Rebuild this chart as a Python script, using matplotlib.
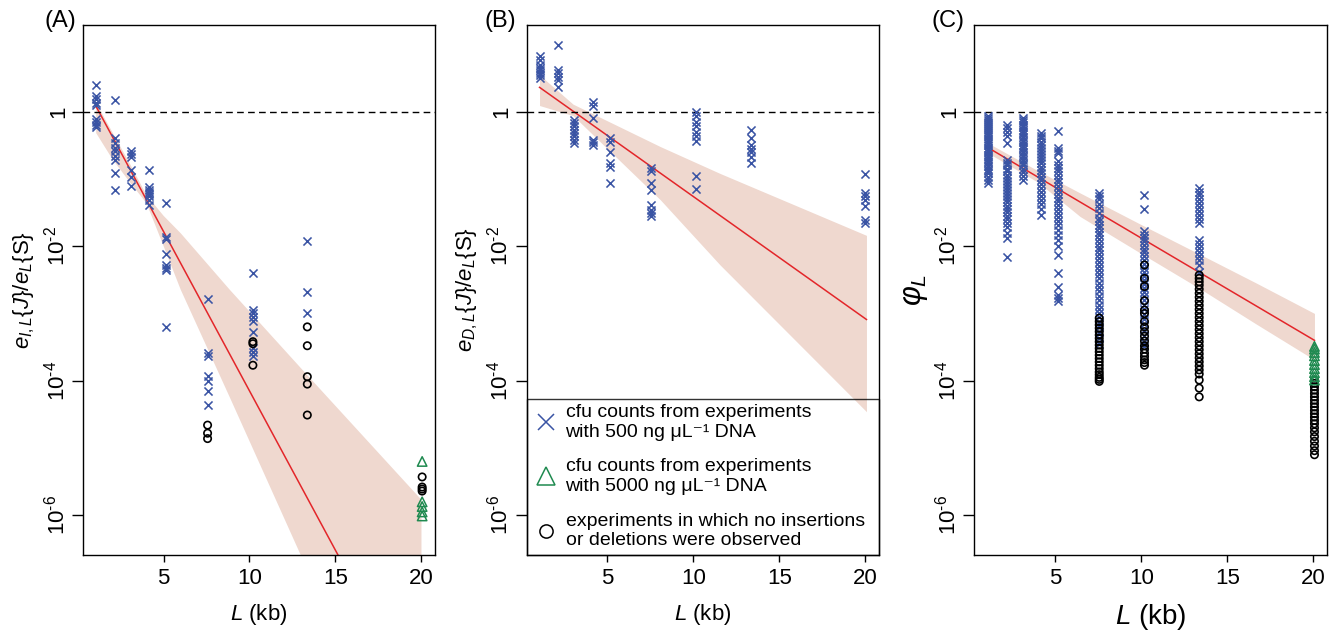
import numpy as np
import matplotlib
matplotlib.use('Agg')
import matplotlib.pyplot as plt
from matplotlib.lines import Line2D

plt.rcParams['font.family'] = ['Liberation Sans', 'DejaVu Sans']
plt.rcParams['mathtext.fontset'] = 'custom'
plt.rcParams['mathtext.rm'] = 'Liberation Sans'
plt.rcParams['mathtext.it'] = 'Liberation Sans:italic'
plt.rcParams['mathtext.bf'] = 'Liberation Sans:bold'

BLUE = '#3a54a4'
GREEN = '#1f8a50'
RED = '#e3262a'
BAND = '#efd8cf'

# every y value below is log10 of the plotted quantity

# ---- panel A ----
L_A = [1.07, 2.17, 3.12, 4.17, 5.16, 7.56, 10.2, 13.37, 20.06]
a_cross = [
    [0.40, 0.23, 0.18, 0.13, 0.10, -0.11, -0.15, -0.20, -0.23],
    [0.17, -0.40, -0.47, -0.54, -0.59, -0.66, -0.72, -0.91, -1.17],
    [-0.58, -0.63, -0.67, -0.87, -0.97, -1.10],
    [-0.87, -1.12, -1.16, -1.19, -1.22, -1.26, -1.31, -1.39],
    [-1.36, -1.86, -1.90, -2.12, -2.28, -2.33, -2.35, -3.20],
    [-2.79, -3.59, -3.63, -3.93, -4.01, -4.15, -4.36],
    [-2.40, -2.95, -3.00, -3.06, -3.11, -3.27, -3.52, -3.58, -3.63],
    [-1.93, -2.68, -3.00],
    [],
]
a_circle_L = [7.56, 10.2, 13.37, 20.06]
a_circle = [
    [-4.66, -4.78, -4.86],
    [-3.42, -3.45, -3.77],
    [-3.20, -3.48, -3.94, -4.05, -4.51],
    [-5.43, -5.58, -5.61, -5.64],
]
a_tri_L = 20.06
a_tri = [-5.20, -5.80, -5.87, -5.95, -6.01]
a_fit_L = [1.07, 20.02]
a_fit = [0.074, -8.89]
a_band_L = [1.07, 2.0, 3.0, 4.0, 5.0, 6.0, 8.86, 12.95, 20.02]
a_band_hi = [0.13, -0.30, -0.76, -1.24, -1.55, -1.81, -2.65, -3.80, -5.77]
a_band_lo = [-0.32, -0.70, -1.04, -1.36, -2.00, -2.65, -4.25, -6.57, -10.5]

# ---- panel B ----
L_B = [1.05, 2.15, 3.08, 4.13, 5.12, 7.52, 10.15, 13.35, 20.0]
b_cross = [
    [0.82, 0.77, 0.69, 0.645, 0.62, 0.57, 0.545, 0.50],
    [0.99, 0.62, 0.57, 0.52, 0.47, 0.37],
    [-0.12, -0.17, -0.22, -0.27, -0.32, -0.37, -0.42, -0.47],
    [0.14, 0.09, -0.09, -0.42, -0.455, -0.495],
    [-0.40, -0.445, -0.595, -0.77, -0.82, -1.06],
    [-0.84, -0.89, -1.06, -1.16, -1.39, -1.46, -1.51, -1.545],
    [-0.01, -0.07, -0.15, -0.22, -0.30, -0.37, -0.435, -0.955, -1.15],
    [-0.27, -0.40, -0.495, -0.555, -0.595, -0.68, -0.77],
    [-0.93, -1.21, -1.26, -1.31, -1.41, -1.61, -1.66],
]
b_fit_L = [1.05, 20.06]
b_fit = [0.36, -3.09]
b_band_L = [1.05, 3.0, 8.07, 11.55, 20.06]
b_band_hi = [0.545, 0.11, -0.52, -0.92, -1.84]
b_band_lo = [0.09, -0.06, -1.31, -2.28, -4.46]

# ---- panel C ----
L_C = [1.09, 2.19, 3.12, 4.17, 5.16, 7.56, 10.19, 13.37]
c_cross = [
    [-0.07, -0.09, -0.12, -0.15, -0.18, -0.21, -0.24, -0.27, -0.31, -0.34,
     -0.37, -0.41, -0.44, -0.47, -0.50, -0.54, -0.57, -0.60, -0.64, -0.67,
     -0.70, -0.74, -0.77, -0.81, -0.85, -0.88, -0.92, -0.97, -1.01, -1.06],
    [-0.20, -0.25, -0.30, -0.37, -0.46, -0.72, -0.76, -0.80, -0.85, -0.89,
     -0.94, -0.98, -1.03, -1.07, -1.12, -1.16, -1.21, -1.26, -1.30, -1.35,
     -1.40, -1.45, -1.50, -1.55, -1.60, -1.66, -1.72, -1.80, -1.88, -2.16],
    [-0.10, -0.13, -0.16, -0.20, -0.23, -0.27, -0.31, -0.34, -0.38, -0.42,
     -0.45, -0.49, -0.53, -0.56, -0.60, -0.64, -0.68, -0.72, -0.76, -0.80,
     -0.85, -0.90, -0.96, -1.02],
    [-0.32, -0.36, -0.40, -0.45, -0.49, -0.54, -0.58, -0.63, -0.68, -0.72,
     -0.77, -0.82, -0.87, -0.92, -0.97, -1.02, -1.08, -1.13, -1.19, -1.25,
     -1.31, -1.38, -1.45, -1.54],
    [-0.29, -0.54, -0.58, -0.62, -0.74, -0.79, -0.84, -0.89, -0.94, -1.00,
     -1.05, -1.11, -1.16, -1.22, -1.28, -1.33, -1.39, -1.45, -1.51, -1.57,
     -1.63, -1.69, -1.76, -1.83, -1.91, -2.00, -2.13, -2.40, -2.60, -2.72,
     -2.77, -2.82],
    [-1.21, -1.25, -1.30, -1.37, -1.44, -1.51, -1.58, -1.63, -1.68, -1.73,
     -1.79, -1.84, -1.90, -1.95, -2.01, -2.06, -2.12, -2.18, -2.24, -2.30,
     -2.36, -2.42, -2.48, -2.55, -2.61, -2.67, -2.74, -2.80, -2.87, -2.93,
     -3.00, -3.06, -3.13, -3.20, -3.28, -3.36, -3.45],
    [-1.24, -1.45, -1.78, -1.83, -1.88, -1.93, -1.98, -2.04, -2.09, -2.15,
     -2.20, -2.26, -2.32, -2.38, -2.44, -2.50, -2.56, -2.62, -2.68, -2.74,
     -2.80, -2.87, -2.94, -3.01, -3.08, -3.16, -3.24, -3.33, -3.42, -3.49],
    [-1.14, -1.19, -1.24, -1.30, -1.36, -1.42, -1.48, -1.54, -1.60, -1.66,
     -1.91, -1.97, -2.03, -2.09, -2.15, -2.21, -2.28, -2.38],
]
c_circle_L = [7.56, 10.19, 13.37, 20.07]
c_circle = [
    [-3.07, -3.12, -3.17, -3.22, -3.27, -3.32, -3.37, -3.42, -3.47, -3.52,
     -3.57, -3.62, -3.67, -3.72, -3.77, -3.82, -3.87, -3.91, -3.95, -3.98,
     -4.01],
    [-2.28, -2.48, -2.60, -2.81, -2.95, -3.00, -3.12, -3.20, -3.27, -3.34,
     -3.41, -3.48, -3.53, -3.59, -3.64, -3.69, -3.73, -3.77],
    [-2.43, -2.48, -2.53, -2.58, -2.64, -2.70, -2.76, -2.82, -2.88, -2.94,
     -3.00, -3.06, -3.12, -3.18, -3.24, -3.30, -3.36, -3.42, -3.48, -3.54,
     -3.60, -3.66, -3.72, -3.78, -3.84, -3.90, -3.99, -4.11, -4.24],
    [-3.99, -4.04, -4.09, -4.14, -4.19, -4.24, -4.29, -4.34, -4.39, -4.44,
     -4.49, -4.54, -4.59, -4.64, -4.70, -4.76, -4.83, -4.90, -4.97, -5.04,
     -5.10],
]
c_tri_L = 20.07
c_tri = [-3.49, -3.53, -3.58, -3.63, -3.70, -3.76, -3.82, -3.88, -3.94, -3.99]
c_fit_L = [1.32, 20.07]
c_fit = [-0.57, -3.40]
c_band_L = [1.32, 4.0, 6.45, 10.0, 13.4, 16.7, 20.07]
c_band_hi = [-0.50, -0.88, -1.21, -1.68, -2.12, -2.55, -3.00]
c_band_lo = [-0.65, -1.05, -1.56, -2.11, -2.63, -3.16, -3.69]

Y_TICKS = [0, -2, -4, -6]
Y_TICK_LABELS = ['1', r'$10^{\text{-}2}$', r'$10^{\text{-}4}$',
                 r'$10^{\text{-}6}$']
X_TICKS = [5, 10, 15, 20]

CROSS = dict(marker='x', color=BLUE, s=34, linewidths=1.15, zorder=3)
CIRCLE = dict(marker='o', facecolors='none', edgecolors='black', s=28,
              linewidths=1.2, zorder=4)
TRI = dict(marker='^', facecolors='none', edgecolors=GREEN, s=46,
           linewidths=1.1, zorder=5)


def scatter_groups(ax, positions, groups, style):
    """
    Draw one column of markers for each position.
    """
    xs = np.repeat(positions, [len(g) for g in groups])
    ys = 10.0 ** np.concatenate([np.asarray(g, float) for g in groups])
    ax.scatter(xs, ys, **style)


def setup_axes(ax, ylabel, xsize=16, ysize=16):
    """
    Log y axis, R-like box and ticks.
    """
    ax.set_yscale('log')
    ax.set_xlim(0.3, 20.8)
    ax.set_ylim(10 ** -6.59, 10 ** 1.29)
    ax.set_xticks(X_TICKS)
    ax.set_xticklabels([str(t) for t in X_TICKS], fontsize=16)
    ax.set_yticks([10.0 ** t for t in Y_TICKS])
    ax.set_yticklabels(Y_TICK_LABELS, fontsize=16, rotation=90, va='center')
    ax.minorticks_off()
    ax.tick_params(axis='x', direction='out', length=4.7, width=1, pad=5)
    ax.tick_params(axis='y', direction='out', length=8, width=1, pad=2)
    for sp in ax.spines.values():
        sp.set_linewidth(1.0)
    ax.axhline(1, color='black', lw=1, ls=(0, (4.8, 3.1)), zorder=2)
    ax.set_xlabel(r'$L$ (kb)', fontsize=xsize, labelpad=9)
    ax.set_ylabel(ylabel, fontsize=ysize)
    ax.yaxis.set_label_coords(-0.168, 0.5)
    ax.yaxis.label.set_verticalalignment('center')


def draw_fit(ax, fit_L, fit_y, band_L, band_hi, band_lo):
    """
    Confidence band and fitted line.
    """
    ax.fill_between(band_L, 10.0 ** np.asarray(band_lo),
                    10.0 ** np.asarray(band_hi), color=BAND, lw=0, zorder=1)
    ax.plot(fit_L, 10.0 ** np.asarray(fit_y), color=RED, lw=1.1, zorder=2)


def main():
    """
    Main function
    """
    fig = plt.figure(figsize=(13.38, 6.35), dpi=100)
    axA = fig.add_axes([0.062, 0.126, 0.263, 0.835])
    axB = fig.add_axes([0.3936, 0.126, 0.2635, 0.835])
    axC = fig.add_axes([0.7282, 0.126, 0.2636, 0.835])

    # (A)
    draw_fit(axA, a_fit_L, a_fit, a_band_L, a_band_hi, a_band_lo)
    scatter_groups(axA, L_A, a_cross, CROSS)
    scatter_groups(axA, a_circle_L, a_circle, CIRCLE)
    scatter_groups(axA, [a_tri_L], [a_tri], TRI)
    setup_axes(axA, r'$e_{I,L}\{J\}/e_{L}\{\mathrm{S}\}$')

    # (B)
    draw_fit(axB, b_fit_L, b_fit, b_band_L, b_band_hi, b_band_lo)
    scatter_groups(axB, L_B, b_cross, CROSS)
    setup_axes(axB, r'$e_{D,L}\{J\}/e_{L}\{\mathrm{S}\}$')

    handles = [
        Line2D([], [], ls='none', marker='x', color=BLUE, markersize=11,
               mew=1.1),
        Line2D([], [], ls='none', marker='^', color=GREEN, mfc='none',
               markersize=13, mew=1.1),
        Line2D([], [], ls='none', marker='o', color='black', mfc='none',
               markersize=9.5, mew=1.1),
    ]
    labels = [
        'cfu counts from experiments\nwith 500 ng \u03bcL\u207b\u00b9 DNA',
        'cfu counts from experiments\nwith 5000 ng \u03bcL\u207b\u00b9 DNA',
        'experiments in which no insertions\nor deletions were observed',
    ]
    leg = axB.legend(handles, labels, loc='lower left',
                     bbox_to_anchor=(0, 0, 1, 1), mode='expand',
                     borderaxespad=0, fontsize=14, fancybox=False,
                     borderpad=0.3, labelspacing=0.9, handlelength=1.4,
                     handletextpad=0.3)
    frame = leg.get_frame()
    frame.set_facecolor('none')
    frame.set_edgecolor('black')
    frame.set_linewidth(1.0)

    # (C)
    draw_fit(axC, c_fit_L, c_fit, c_band_L, c_band_hi, c_band_lo)
    scatter_groups(axC, L_C, c_cross, CROSS)
    scatter_groups(axC, c_circle_L, c_circle, CIRCLE)
    scatter_groups(axC, [c_tri_L], [c_tri], TRI)
    setup_axes(axC, r'$\varphi_{L}$', xsize=20, ysize=22)

    for tag, x in [('(A)', 60), ('(B)', 500), ('(C)', 948)]:
        fig.text(x / 1338, 1 - 21 / 635, tag, fontsize=17,
                 ha='center', va='center')

    fig.savefig('out.png', dpi=100)


if __name__ == "__main__":
    main()
